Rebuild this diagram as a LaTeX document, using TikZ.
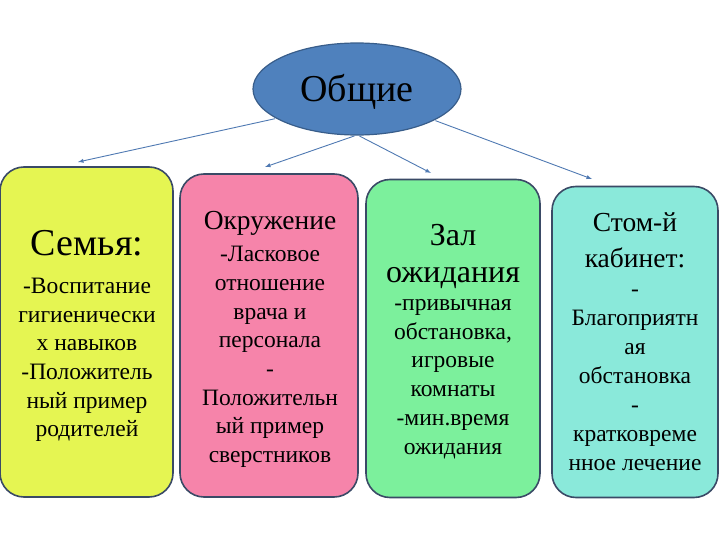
\documentclass[tikz,border=0pt]{standalone}
\usepackage{fontspec}
\setmainfont{Liberation Serif}
\usetikzlibrary{shapes.geometric,arrows}
\tikzset{>=latex}
\definecolor{ovalColour}{RGB}{79,129,189}
\definecolor{ovalLine}{RGB}{56,93,138}
\definecolor{boxLine}{RGB}{58,74,102}
\definecolor{arrowColour}{RGB}{79,121,178}
\definecolor{familyColour}{RGB}{229,245,82}
\definecolor{aroundColour}{RGB}{246,132,170}
\definecolor{hallColour}{RGB}{124,240,156}
\definecolor{roomColour}{RGB}{138,233,218}
\tikzset{
	panel/.style={draw=boxLine, line width=1.6pt, rounded corners=24pt, inner sep=0pt},
	headtext/.style={align=center, inner sep=0pt, text=black},
	bodytext/.style={align=center, inner sep=0pt, text=black, font={\fontsize{23.5}{28.7}\selectfont}},
	link/.style={->, draw=arrowColour, line width=0.9pt, shorten <=1pt}
}

\begin{document}
\begin{tikzpicture}[x=1pt, y=-1pt]
		% the page
		\useasboundingbox (0, 0) rectangle (720, 540);

		% the four panels
		\node[panel, fill=familyColour, minimum width=173pt, minimum height=330pt] (family) at (86.5, 332) {};
		\node[panel, fill=aroundColour, minimum width=178pt, minimum height=323pt] (around) at (269, 335.5) {};
		\node[panel, fill=hallColour, minimum width=174pt, minimum height=318pt] (hall) at (453, 338.5) {};
		\node[panel, fill=roomColour, minimum width=166pt, minimum height=311pt] (room) at (635, 342) {};

		% the oval on top
		\node[ellipse, draw=ovalLine, line width=1.2pt, fill=ovalColour, minimum width=208pt, minimum height=92pt] (common) at (357, 89) {};
		\node[headtext, font={\fontsize{38}{42}\selectfont}] (commonText) at (357, 92) {Общие};

		% the arrow ends
		\coordinate (tipA) at (78, 162);
		\coordinate (tipB) at (265, 167);
		\coordinate (tipC) at (431, 173);
		\coordinate (tipD) at (592, 179);
		\draw[link] (common.200) -- (tipA);
		\draw[link] (common.268) -- (tipB);
		\draw[link] (common.272) -- (tipC);
		\draw[link] (common.338) -- (tipD);

		% the text
		\node[headtext, font={\fontsize{38}{42}\selectfont}] (familyHead) at (87, 243) {Семья:};
		\node[bodytext] (familyBody) at (87, 360) {-Воспитание\\гигиенически\\х навыков\\-Положитель\\ный пример\\родителей};

		\node[headtext, font={\fontsize{27.5}{30}\selectfont}] (aroundHead) at (270, 223) {Окружение};
		\node[bodytext] (aroundBody) at (270, 357) {-Ласковое\\отношение\\врача и\\персонала\\-\\Положительн\\ый пример\\сверстников};

		\node[headtext, font={\fontsize{32}{37}\selectfont}] (hallHead) at (453, 256) {Зал\\ожидания};
		\node[bodytext] (hallBody) at (453, 379) {-привычная\\обстановка,\\игровые\\комнаты\\-мин.время\\ожидания};

		\node[headtext, font={\fontsize{27.5}{36}\selectfont}] (roomHead) at (635, 240) {Стом-й\\кабинет:};
		\node[bodytext, font={\fontsize{23.5}{29}\selectfont}] (roomBody) at (635, 380) {-\\Благоприятн\\ая\\обстановка\\-\\кратковреме\\нное лечение};
	\end{tikzpicture}
\end{document}
